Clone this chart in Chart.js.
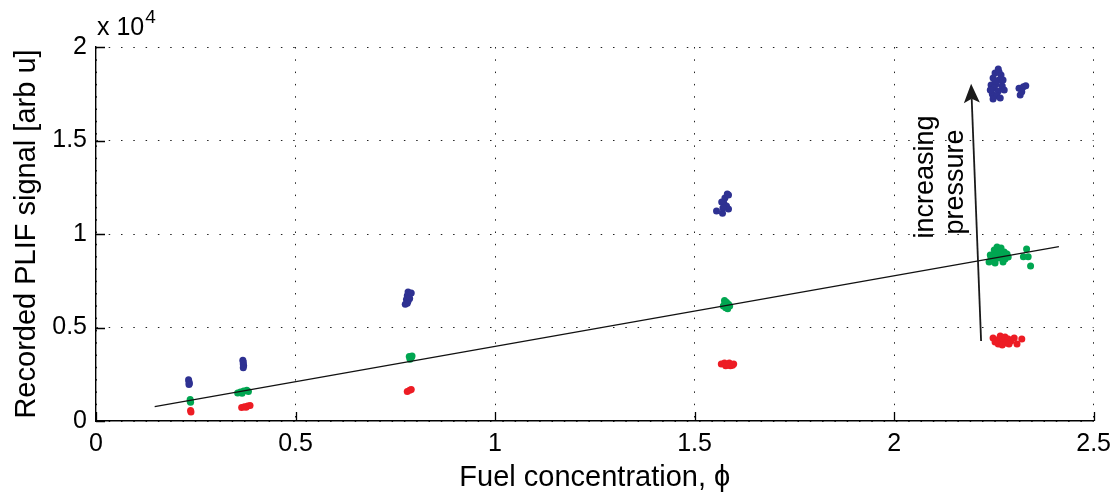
<!DOCTYPE html>
<html>
<head>
<meta charset="utf-8">
<script src="https://cdn.jsdelivr.net/npm/chart.js@4.4.1/dist/chart.umd.min.js"></script>
<style>
html,body{margin:0;padding:0;background:#fff;}
#wrap{width:1119px;height:496px;position:relative;}
</style>
</head>
<body>
<div id="wrap"><canvas id="c" width="1119" height="496"></canvas></div>
<script>
// ---- tick labels ----
const phiTicks = [0, 0.5, 1, 1.5, 2, 2.5];
const signalTicks = [0, 5000, 10000, 15000, 20000];

// ---- highest pressure (blue) ----
const highPhi = [0.232,0.233,0.234,0.233,
  0.368,0.369,0.369,0.370,0.369,
  0.782,0.786,0.780,0.784,0.778,0.782,0.786,0.780,0.775,0.790,
  1.555,1.570,1.582,1.585,1.573,1.568,1.576,1.580,1.571,1.585,
  2.261,2.253,2.268,2.248,2.263,2.256,2.243,2.271,2.251,2.261,2.246,2.258,2.248,2.266,2.253,2.276,2.241,2.263,2.273,
  2.313,2.324,2.330,2.316,2.320];
const highSignal = [2200,2100,2000,1950,
  3250,3150,3050,2950,2850,
  6900,6800,6700,6600,6500,6400,6550,6300,6250,6850,
  11230,11110,12140,11340,11660,11710,11930,11500,11390,12090,
  18825,18611,18503,18344,18235,18023,17969,17916,17810,17648,17488,17380,17220,17274,18182,17702,17702,18664,18235,
  17790,17880,17930,17430,17610];

// ---- medium pressure (green) ----
const midPhi = [0.236,0.236,0.237,
  0.355,0.362,0.370,0.378,0.382,0.366,
  0.785,0.790,0.787,0.792,
  1.575,1.580,1.585,1.572,1.578,1.583,1.588,1.576,
  2.241,2.251,2.258,2.268,2.276,2.283,2.248,2.261,2.271,2.278,2.253,2.243,2.266,2.286,2.256,2.273,2.238,
  2.332,2.324,2.336,2.342];
const midSignal = [1150,1050,1000,
  1500,1550,1600,1650,1580,1480,
  3450,3380,3300,3480,
  6450,6350,6250,6150,6050,6000,6150,6300,
  8878,9145,9306,9252,9038,8931,8610,8717,8824,8664,8450,8717,9038,8770,8931,8503,8503,
  9199,8788,8788,8289];

// ---- lowest pressure (red) ----
const lowPhi = [0.237,0.238,
  0.365,0.372,0.380,0.386,0.376,
  0.780,0.786,0.790,
  1.567,1.575,1.583,1.590,1.598,1.587,1.578,1.595,
  2.248,2.258,2.266,2.273,2.278,2.286,2.293,2.261,2.271,2.281,2.301,2.308,2.320,2.253,2.288];
const lowSignal = [560,480,
  720,760,800,830,740,
  1580,1640,1680,
  3050,3100,3000,2950,3050,3100,2950,2980,
  4439,4332,4546,4278,4492,4385,4278,4118,4064,4171,4439,4118,4385,4225,4118];

// ---- linear fit line ----
const fitPhi = [0.147, 2.413];
const fitSignal = [770, 9320];

// ---- annotation: arrow and label ----
const arrowPhi = [2.218, 2.193];
const arrowSignal = [4280, 18030];
const noteLines = ['increasing', 'pressure'];
const notePhi = [2.097, 2.172];
const noteSignal = [13050, 12780];

const FONT = '"Liberation Sans", Arial, Helvetica, sans-serif';
Chart.defaults.font.family = FONT;
Chart.defaults.color = '#000';

function pts(xs, ys){ return xs.map((v,i)=>({x:v, y:ys[i]})); }

const overlay = {
  id: 'overlay',
  afterDraw(chart){
    const {ctx, chartArea:a, scales:{x, y}} = chart;
    ctx.save();
    // inward ticks
    ctx.strokeStyle = '#000';
    ctx.lineWidth = 1.3;
    ctx.beginPath();
    phiTicks.forEach(v=>{ const px = Math.round(x.getPixelForValue(v))+0.5; ctx.moveTo(px, a.bottom); ctx.lineTo(px, a.bottom-9); });
    signalTicks.forEach(v=>{ const py = Math.round(y.getPixelForValue(v))+0.5; ctx.moveTo(a.left, py); ctx.lineTo(a.left+9, py); });
    ctx.stroke();

    // arrow
    const x1 = x.getPixelForValue(arrowPhi[0]), y1 = y.getPixelForValue(arrowSignal[0]);
    const x2 = x.getPixelForValue(arrowPhi[1]), y2 = y.getPixelForValue(arrowSignal[1]);
    const ang = Math.atan2(y2-y1, x2-x1);
    const hl = 19, hw = 8;
    const bx = x2 - hl*Math.cos(ang), by = y2 - hl*Math.sin(ang);
    ctx.strokeStyle = '#1a1a1a';
    ctx.lineWidth = 1.8;
    ctx.beginPath(); ctx.moveTo(x1, y1); ctx.lineTo(bx + 4*Math.cos(ang), by + 4*Math.sin(ang)); ctx.stroke();
    ctx.fillStyle = '#1a1a1a';
    ctx.beginPath();
    ctx.moveTo(x2, y2);
    ctx.lineTo(bx - hw*Math.sin(ang), by + hw*Math.cos(ang));
    ctx.lineTo(bx + 4*Math.cos(ang), by + 4*Math.sin(ang));
    ctx.lineTo(bx + hw*Math.sin(ang), by - hw*Math.cos(ang));
    ctx.closePath(); ctx.fill();

    // rotated note
    ctx.fillStyle = '#000';
    ctx.font = '27px ' + FONT;
    ctx.textAlign = 'center';
    ctx.textBaseline = 'alphabetic';
    noteLines.forEach((t,i)=>{
      ctx.save();
      ctx.translate(x.getPixelForValue(notePhi[i]), y.getPixelForValue(noteSignal[i]));
      ctx.rotate(-Math.PI/2);
      ctx.fillText(t, 0, 0);
      ctx.restore();
    });

    // exponent multiplier
    ctx.textAlign = 'left';
    ctx.font = '25px ' + FONT;
    ctx.fillText('x 10', a.left + 1, a.top - 12);
    const w = ctx.measureText('x 10').width;
    ctx.font = '19px ' + FONT;
    ctx.fillText('4', a.left + 2 + w, a.top - 24);
    ctx.restore();
  }
};

const scatterStyle = (c)=>({ backgroundColor:c, borderColor:c, borderWidth:0, pointRadius:3.5, pointHoverRadius:3.5, showLine:false });

new Chart(document.getElementById('c'), {
  type: 'scatter',
  data: {
    datasets: [
      { type:'line', data: pts(fitPhi, fitSignal), borderColor:'#111', borderWidth:1.3, pointRadius:0, fill:false, tension:0 },
      Object.assign({ data: pts(highPhi, highSignal) }, scatterStyle('#2E3192')),
      Object.assign({ data: pts(midPhi, midSignal) }, scatterStyle('#00A651')),
      Object.assign({ data: pts(lowPhi, lowSignal) }, scatterStyle('#ED1C24'))
    ]
  },
  options: {
    responsive: false,
    animation: false,
    devicePixelRatio: 1,
    layout: { padding: { top: 47, right: 20, left: 0, bottom: 0 } },
    plugins: { legend: { display:false }, tooltip: { enabled:false } },
    scales: {
      x: {
        type: 'linear', min: 0, max: 2.5,
        afterBuildTicks: s => { s.ticks = phiTicks.map(v=>({value:v})); },
        afterFit: s => { s.height = 75; },
        ticks: { font:{size:25}, padding: 8, callback: v => String(v) },
        grid: { color:'#222', lineWidth:1, drawTicks:false },
        border: { display:true, color:'#000', width:1.4, dash:[1.5, 10.8] },
        title: { display:true, text:'Fuel concentration, \u03d5', font:{size:29}, padding:{top:0, bottom:1} }
      },
      y: {
        type: 'linear', min: 0, max: 20000,
        afterBuildTicks: s => { s.ticks = signalTicks.map(v=>({value:v})); },
        afterFit: s => { s.width = 96; },
        ticks: { font:{size:25}, padding: 9, callback: v => String(v/10000) },
        grid: { color:'#222', lineWidth:1, drawTicks:false },
        border: { display:true, color:'#000', width:1.4, dash:[1.5, 10.8] },
        title: { display:true, text:'Recorded PLIF signal [arb u]', font:{size:29}, padding:{top:10, bottom:0} }
      }
    }
  },
  plugins: [overlay]
});
</script>
</body>
</html>
